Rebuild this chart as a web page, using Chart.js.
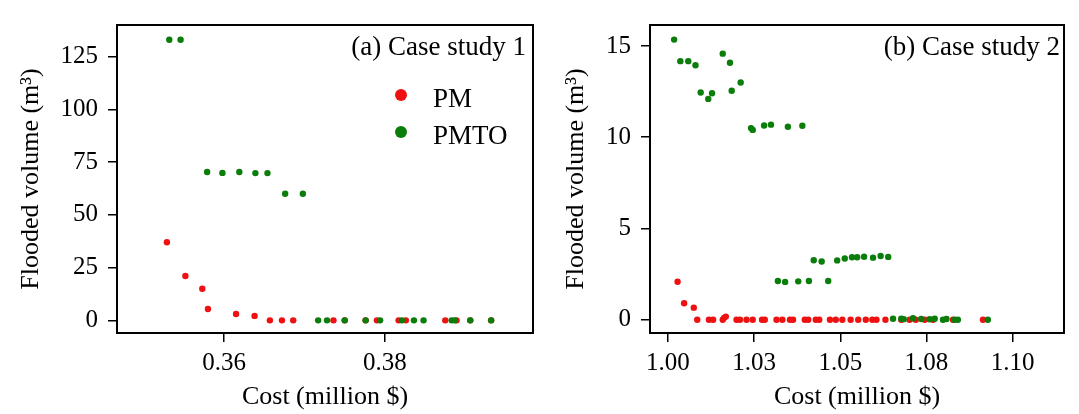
<!DOCTYPE html>
<html>
<head>
<meta charset="utf-8">
<script src="https://cdn.jsdelivr.net/npm/chart.js@4.4.1/dist/chart.umd.min.js"></script>
<style>
  html, body { margin: 0; padding: 0; background: #fff; }
  #wrap { position: relative; width: 1079px; height: 414px; overflow: hidden; }
  #c1 { position: absolute; left: 0; top: 0; }
  #c2 { position: absolute; left: 545px; top: 0; }
</style>
</head>
<body>
<div id="wrap">
  <canvas id="c1" width="545" height="414"></canvas>
  <canvas id="c2" width="534" height="414"></canvas>
</div>
<script>
// Series names and panel labels
const seriesNames = ['PM', 'PMTO'];
const panelLabels = ['(a) Case study 1', '(b) Case study 2'];

// Case study 1 (cost in million $, flooded volume in m3)
const pmCost1 = [0.3529, 0.3552, 0.3573, 0.3580, 0.3615, 0.3638, 0.3657, 0.3672, 0.3686, 0.3736,
                 0.3750, 0.3776, 0.3790, 0.3817, 0.3826, 0.3875, 0.3889, 0.3906, 0.3932];
const pmVol1  = [37, 21, 15, 5.4, 3.0, 2.1, 0, 0, 0, 0,
                 0, 0, 0, 0, 0, 0, 0, 0, 0];
const pmtoCost1 = [0.3532, 0.3546, 0.3579, 0.3598, 0.3619, 0.3639, 0.3654, 0.3676, 0.3698, 0.3717,
                   0.3728, 0.3750, 0.3776, 0.3794, 0.3821, 0.3836, 0.3848, 0.3883, 0.3887, 0.3906, 0.3932];
const pmtoVol1  = [133, 133, 70.3, 69.9, 70.3, 69.8, 69.8, 60, 60, 0,
                   0, 0, 0, 0, 0, 0, 0, 0, 0, 0, 0];

// Case study 2
const pmCost2 = [1.0028, 1.0047, 1.0075, 1.0085, 1.0119, 1.0131, 1.0159, 1.0163, 1.0168, 1.0199,
                 1.0209, 1.0228, 1.0246, 1.0273, 1.0281, 1.0315, 1.0332, 1.0354, 1.0363, 1.0397,
                 1.0407, 1.0429, 1.0439, 1.0470, 1.0487, 1.0506, 1.0530, 1.0552, 1.0574, 1.0593,
                 1.0605, 1.0631, 1.0677, 1.0701, 1.0719, 1.0745, 1.0769, 1.0827, 1.0914];
const pmVol2  = [2.08, 0.90, 0.66, 0, 0, 0, 0, 0.10, 0.17, 0,
                 0, 0, 0, 0, 0, 0, 0, 0, 0, 0,
                 0, 0, 0, 0, 0, 0, 0, 0, 0, 0,
                 0, 0, 0, 0, 0, 0, 0, 0, 0];
const pmtoCost2 = [1.0018, 1.0036, 1.0059, 1.0080, 1.0095, 1.0117, 1.0128, 1.0159, 1.0180, 1.0185,
                   1.0211, 1.0241, 1.0246, 1.0279, 1.0299, 1.0348, 1.0390,
                   1.0319, 1.0340, 1.0378, 1.0409, 1.0423, 1.0446, 1.0465, 1.0491, 1.0513,
                   1.0534, 1.0549, 1.0569, 1.0595, 1.0617, 1.0639,
                   1.0653, 1.0677, 1.0684, 1.0711, 1.0735, 1.0759, 1.0774, 1.0798, 1.0808,
                   1.0832, 1.0841, 1.0928];
const pmtoVol2  = [15.35, 14.17, 14.17, 13.94, 12.45, 12.10, 12.41, 14.58, 14.08, 12.55,
                   13.0, 10.50, 10.40, 10.64, 10.69, 10.57, 10.63,
                   2.12, 2.07, 2.10, 2.12, 3.26, 3.19, 2.12, 3.25, 3.35,
                   3.42, 3.42, 3.45, 3.40, 3.49, 3.44,
                   0.05, 0.05, 0.03, 0.08, 0.04, 0.02, 0.05, 0.0, 0.04,
                   0.0, 0.0, 0.0];

// Tick values / labels
const xTicks1 = [0.36, 0.38];
const yTicks1 = [0, 25, 50, 75, 100, 125];
const xTicks2 = [1.0, 1.025, 1.05, 1.075, 1.1];
const xTickLabels2 = ['1.00', '1.03', '1.05', '1.08', '1.10'];
const yTicks2 = [0, 5, 10, 15];

const RED = '#ee1111';
const GREEN = '#0a7d0a';
const SERIF = '"Liberation Serif", "Times New Roman", serif';

Chart.defaults.font.family = SERIF;
Chart.defaults.color = '#000';

const pts = (xs, ys) => xs.map((x, i) => ({ x: x, y: ys[i] }));

// box around plot, panel label and in-plot legend
const panelPlugin = {
  id: 'panel',
  afterDatasetsDraw(chart, args, opts) {
    const { ctx, chartArea: a } = chart;
    ctx.save();
    ctx.strokeStyle = '#000';
    ctx.lineWidth = 2;
    ctx.strokeRect(a.left, a.top, a.right - a.left, a.bottom - a.top);

    ctx.fillStyle = '#000';
    ctx.font = '27px ' + SERIF;
    ctx.textAlign = 'right';
    ctx.textBaseline = 'alphabetic';
    ctx.fillText(opts.label, a.right - opts.labelInset, a.top + 30);

    if (opts.legend) {
      ctx.textAlign = 'left';
      chart.data.datasets.forEach((ds, i) => {
        const cy = a.top + 70 + i * 37;
        ctx.beginPath();
        ctx.fillStyle = ds.backgroundColor;
        ctx.arc(a.left + 284, cy, 6, 0, Math.PI * 2);
        ctx.fill();
        ctx.fillStyle = '#000';
        ctx.fillText(ds.label, a.left + 316, cy + 12);
      });
    }
    ctx.restore();
  }
};

function makeChart(id, data, cfg) {
  return new Chart(document.getElementById(id), {
    type: 'scatter',
    data: {
      datasets: [
        { label: seriesNames[0], data: data[0], backgroundColor: RED, borderWidth: 0,
          pointRadius: 3.2, order: 1 },
        { label: seriesNames[1], data: data[1], backgroundColor: GREEN, borderWidth: 0,
          pointRadius: 3.2, order: 0 }
      ]
    },
    options: {
      responsive: false,
      animation: false,
      layout: { padding: { top: 10, right: cfg.padRight, left: 0, bottom: 0 } },
      plugins: {
        legend: { display: false },
        tooltip: { enabled: false },
        panel: { label: cfg.label, labelInset: cfg.labelInset, legend: cfg.legend }
      },
      scales: {
        x: {
          type: 'linear',
          min: cfg.xMin, max: cfg.xMax,
          afterFit: s => { s.height = 81; },
          afterBuildTicks: s => { s.ticks = cfg.xTicks.map(v => ({ value: v })); },
          ticks: {
            font: { size: 25 }, padding: 6, maxRotation: 0,
            callback: (v, i) => cfg.xLabels ? cfg.xLabels[i] : v.toFixed(2)
          },
          grid: { drawOnChartArea: false, tickLength: 9, color: '#000', lineWidth: 1.5 },
          border: { display: false },
          title: { display: true, text: 'Cost (million $)', font: { size: 26 },
                   padding: { top: 0, bottom: 1 } }
        },
        y: {
          type: 'linear',
          min: cfg.yMin, max: cfg.yMax,
          afterFit: s => { s.width = cfg.yWidth; },
          afterBuildTicks: s => { s.ticks = cfg.yTicks.map(v => ({ value: v })); },
          ticks: { font: { size: 25 }, padding: 10, callback: v => String(v) },
          grid: { drawOnChartArea: false, tickLength: 9, color: '#000', lineWidth: 1.5 },
          border: { display: false },
          title: { display: true, text: 'Flooded volume (m³)', font: { size: 26 },
                   padding: { top: 16, bottom: 0 } }
        }
      }
    },
    plugins: [panelPlugin]
  });
}

makeChart('c1', [pts(pmCost1, pmVol1), pts(pmtoCost1, pmtoVol1)], {
  xMin: 0.3467, xMax: 0.3984, yMin: -6, yMax: 140,
  xTicks: xTicks1, yTicks: yTicks1, xLabels: null,
  yWidth: 117, padRight: 12, label: panelLabels[0], labelInset: 7, legend: true
});

makeChart('c2', [pts(pmCost2, pmVol2), pts(pmtoCost2, pmtoVol2)], {
  xMin: 0.9948, xMax: 1.1149, yMin: -0.73, yMax: 16.15,
  xTicks: xTicks2, yTicks: yTicks2, xLabels: xTickLabels2,
  yWidth: 105, padRight: 15, label: panelLabels[1], labelInset: 4, legend: false
});
</script>
</body>
</html>
